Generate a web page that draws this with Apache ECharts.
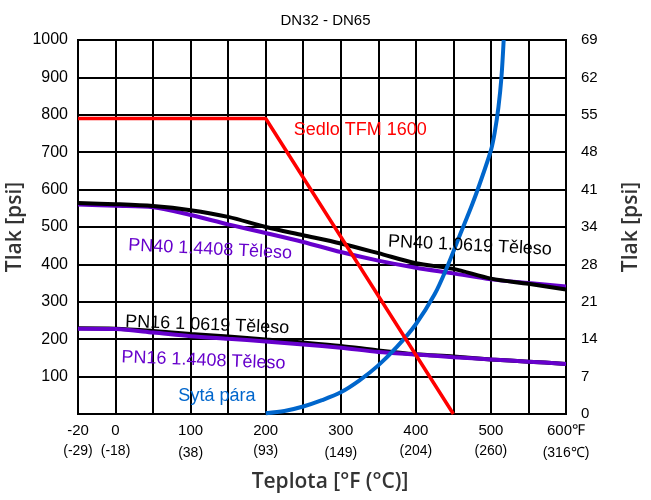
<!DOCTYPE html>
<html><head><meta charset="utf-8">
<script src="https://cdn.jsdelivr.net/npm/echarts@6/dist/echarts.min.js"></script>
<style>html,body{margin:0;padding:0;background:#fff}#c{width:651px;height:500px}</style>
</head><body><div id="c"></div>
<script>
// ---- data (temperature in °F, pressure in psi) ----
const temps = [-20, 0, 50, 100, 150, 200, 250, 300, 350, 400, 450, 500, 550, 600];
const pn40_10619 = [564, 561, 556, 545, 527, 500, 478, 456, 430, 403, 388, 362, 348, 333];
const pn40_14408 = [560, 557, 553, 532, 507, 484, 460, 433, 410, 391, 376, 360, 350, 341];
const pn16_10619 = [229, 228, 222, 214, 207, 199, 191, 182, 170, 160, 154, 146, 140, 134];
const pn16_14408 = [228, 227, 218, 208, 201, 194, 186, 177, 166, 159, 152, 146, 140, 134];
const seatTemps = [-20, 200, 450];
const seatP = [790, 790, 0];
const steamTemps = [200, 225, 250, 275, 300, 325, 350, 375, 400, 425, 440, 460, 475, 485, 500, 505, 510, 514, 517];
const steamP = [2, 8, 20, 37, 58, 90, 130, 180, 240, 320, 385, 485, 560, 615, 705, 752, 820, 900, 1000];
// tick labels
const fTickVals = [-20, 0, 100, 200, 300, 400, 500, 600];
const fTicks = ['-20', '0', '100', '200', '300', '400', '500', '600℉'];
const cTicks = ['(-29)', '(-18)', '(38)', '(93)', '(149)', '(204)', '(260)', '(316℃)'];
const leftTicks = ['', '100', '200', '300', '400', '500', '600', '700', '800', '900', '1000'];
const rightTicks = ['0', '7', '14', '21', '28', '34', '41', '48', '55', '62', '69'];
// annotation texts, anchored in data units (°F, psi)
const notes = [
  {text: 'Sedlo TFM 1600', f: 326, p: 758, color: '#ff0000', rot: 0},
  {text: 'PN40 1.0619 Těleso', f: 472, p: 450, color: '#000000', rot: -0.05},
  {text: 'PN40 1.4408 Těleso', f: 126, p: 440, color: '#6600cc', rot: -0.05},
  {text: 'PN16 1 0619 Těleso', f: 122, p: 238, color: '#000000', rot: -0.04},
  {text: 'PN16 1.4408 Těleso', f: 117, p: 143, color: '#6600cc', rot: -0.04},
  {text: 'Sytá pára', f: 135, p: 49, color: '#0066cc', rot: 0}
];
// ------------------------------------------------
// The reference axis gives -20..0 °F a full grid cell (same as 50 °F)
const xMap = f => (f < 0 ? f * 2.5 : f);
const pairs = (xs, ys) => xs.map((x, i) => [xMap(x), ys[i]]);
const cLow = [0, 0, 1, 0, 1, 0, 0, 1];

const chart = echarts.init(document.getElementById('c'), null, {renderer: 'canvas'});
const FONT = '"Liberation Sans", Arial, sans-serif';
const nameStyle = {fontFamily: '"Open Sans", sans-serif', fontWeight: 600, fontSize: 21, color: '#333'};

chart.setOption({
  animation: false,
  backgroundColor: '#fff',
  title: {text: 'DN32 - DN65', left: 'center', top: 8,
    textStyle: {fontFamily: FONT, fontSize: 15, fontWeight: 'normal', color: '#000'}},
  grid: {left: 78, right: 85, top: 40, bottom: 86, show: true, borderColor: '#000', borderWidth: 2,
    containLabel: false, outerBoundsMode: 'none'},
  xAxis: {
    type: 'value', min: xMap(-20), max: 600, interval: 50,
    name: 'Teplota [°F (°C)]', nameLocation: 'middle', nameGap: 58,
    nameTextStyle: Object.assign({}, nameStyle, {padding: [0, 0, 0, 16]}),
    axisLine: {lineStyle: {color: '#000', width: 2}}, axisTick: {show: false},
    splitLine: {lineStyle: {color: '#000', width: 2}},
    axisLabel: {
      margin: 7, color: '#000', fontFamily: FONT,
      formatter: v => {
        const i = fTickVals.map(xMap).indexOf(v);
        if (i < 0) return '';
        return '{f|' + fTicks[i] + '}\n{' + (cLow[i] ? 'cl' : 'cu') + '|' + cTicks[i] + '}';
      },
      rich: {
        f: {fontSize: 15, lineHeight: 20, fontFamily: FONT, color: '#000'},
        cu: {fontSize: 14, lineHeight: 20, fontFamily: FONT, color: '#000'},
        cl: {fontSize: 14, lineHeight: 20, padding: [5, 0, 0, 0], fontFamily: FONT, color: '#000'}
      }
    }
  },
  yAxis: [{
    type: 'value', min: 0, max: 1000, interval: 100, position: 'left',
    name: 'Tlak [psi]', nameLocation: 'middle', nameGap: 52, nameMoveOverlap: false, nameTextStyle: nameStyle,
    axisLine: {show: true, lineStyle: {color: '#000', width: 2}}, axisTick: {show: false},
    splitLine: {lineStyle: {color: '#000', width: 2}},
    axisLabel: {margin: 10, color: '#000', fontSize: 16, fontFamily: FONT,
      formatter: v => leftTicks[Math.round(v / 100)]}
  }, {
    type: 'value', min: 0, max: 1000, interval: 100, position: 'right',
    name: 'Tlak [psi]', nameLocation: 'middle', nameGap: 55, nameRotate: 90, nameMoveOverlap: false, nameTextStyle: nameStyle,
    axisLine: {show: true, lineStyle: {color: '#000', width: 2}}, axisTick: {show: false},
    splitLine: {show: false},
    axisLabel: {margin: 15, color: '#000', fontSize: 15, fontFamily: FONT, align: 'left',
      formatter: v => rightTicks[Math.round(v / 100)]}
  }],
  series: [
    {type: 'line', data: pairs(temps, pn40_14408), showSymbol: false, smooth: 0.3,
      lineStyle: {color: '#6600cc', width: 4}},
    {type: 'line', data: pairs(temps, pn40_10619), showSymbol: false, smooth: 0.3,
      lineStyle: {color: '#000', width: 4}},
    {type: 'line', data: pairs(temps, pn16_10619), showSymbol: false, smooth: 0.3,
      lineStyle: {color: '#000', width: 4}},
    {type: 'line', data: pairs(temps, pn16_14408), showSymbol: false, smooth: 0.3,
      lineStyle: {color: '#6600cc', width: 4}},
    {type: 'line', data: pairs(steamTemps, steamP), showSymbol: false, smooth: 0.3,
      lineStyle: {color: '#0066cc', width: 4}},
    {type: 'line', data: pairs(seatTemps, seatP), showSymbol: false,
      lineStyle: {color: '#ff0000', width: 3.5}}
  ]
});

const g = notes.map(n => {
  const pt = chart.convertToPixel({xAxisIndex: 0, yAxisIndex: 0}, [xMap(n.f), n.p]);
  return {type: 'text', x: pt[0], y: pt[1], rotation: n.rot, z: 100,
    style: {text: n.text, fill: n.color, font: '18px ' + FONT, textAlign: 'center', textVerticalAlign: 'middle'}};
});
chart.setOption({graphic: g});
</script></body></html>
